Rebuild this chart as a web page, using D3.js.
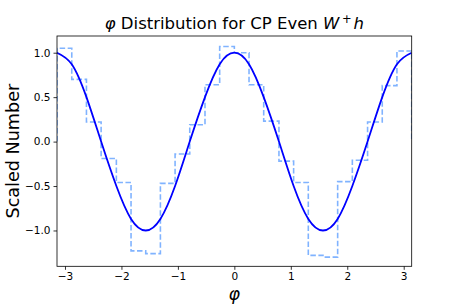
<!DOCTYPE html>
<html>
<head>
<meta charset="utf-8">
<script src="https://cdn.jsdelivr.net/npm/d3@7"></script>
<style>
  body { margin: 0; background: #fff; }
  svg { font-family: "DejaVu Sans", sans-serif; }
</style>
</head>
<body>
<div id="chart"></div>
<script>
// histogram bin edges (phi) and the scaled count in each bin
var binEdges = [-3.1416, -2.88, -2.62, -2.36, -2.09, -1.83, -1.57, -1.31, -1.05, -0.79, -0.52, -0.26,
  0, 0.26, 0.52, 0.79, 1.05, 1.31, 1.57, 1.83, 2.09, 2.36, 2.62, 2.88, 3.1416];
var binValues = [1.05, 0.70, 0.22, -0.19, -0.46, -1.23, -1.26, -0.47, -0.14, 0.19, 0.64, 1.07,
  1.00, 0.64, 0.23, -0.22, -0.46, -1.28, -1.30, -0.45, -0.21, 0.22, 0.63, 1.02];

// theory curve
var curvePhi = [-3.1416, -2.88, -2.62, -2.36, -2.09, -1.83, -1.57, -1.31, -1.05, -0.79, -0.52, -0.26,
  0, 0.26, 0.52, 0.79, 1.05, 1.31, 1.57, 1.83, 2.09, 2.36, 2.62, 2.88, 3.1416];
var curveValues = [1.0, 0.87, 0.5, 0.0, -0.5, -0.87, -1.0, -0.87, -0.5, 0.0, 0.5, 0.87,
  1.0, 0.87, 0.5, 0.0, -0.5, -0.87, -1.0, -0.87, -0.5, 0.0, 0.5, 0.87, 1.0];

var xTicks = [-3, -2, -1, 0, 1, 2, 3];
var yTicks = [-1.0, -0.5, 0.0, 0.5, 1.0];

var width = 457, height = 305;
var margin = {top: 36, right: 45.3, bottom: 38.7, left: 57};
var plotW = width - margin.left - margin.right,
    plotH = height - margin.top - margin.bottom;

var svg = d3.select('#chart').append('svg')
  .attr('width', width)
  .attr('height', height);

var x = d3.scaleLinear().domain([-Math.PI, Math.PI]).range([0, plotW]);
var y = d3.scaleLinear().domain([-1.403, 1.188]).range([plotH, 0]);

var g = svg.append('g').attr('transform', 'translate(' + margin.left + ',' + margin.top + ')');

g.append('clipPath').attr('id', 'clip')
  .append('rect').attr('width', plotW).attr('height', plotH);

var fmtMinus = function(s) { return s.replace('-', '\u2212'); };

// axes
var xAxis = d3.axisBottom(x).tickValues(xTicks).tickSize(3.5).tickPadding(3)
  .tickFormat(function(d) { return fmtMinus(d3.format('d')(d)); });
var yAxis = d3.axisLeft(y).tickValues(yTicks).tickSize(3.5).tickPadding(3)
  .tickFormat(function(d) { return fmtMinus(d3.format('.1f')(d)); });

var gx = g.append('g').attr('transform', 'translate(0,' + plotH + ')').call(xAxis);
var gy = g.append('g').call(yAxis);
[gx, gy].forEach(function(a) {
  a.select('.domain').remove();
  a.selectAll('.tick line').attr('stroke', '#000').attr('stroke-width', 0.8);
  a.selectAll('.tick text').attr('fill', '#000').style('font-size', '10.5px')
    .style('font-family', '"DejaVu Sans", sans-serif');
});

// step histogram (dashed)
var stepPts = [[binEdges[0], 0]];
binValues.forEach(function(v, i) {
  stepPts.push([binEdges[i], v]);
  stepPts.push([binEdges[i + 1], v]);
});
stepPts.push([binEdges[binEdges.length - 1], 0]);

var line = d3.line().x(function(d) { return x(d[0]); }).y(function(d) { return y(d[1]); });

g.append('path')
  .attr('clip-path', 'url(#clip)')
  .attr('d', line(stepPts))
  .attr('fill', 'none')
  .attr('stroke', '#80b3ff')
  .attr('stroke-width', 1.6)
  .attr('stroke-dasharray', '5.5,2.5');

// smooth curve
var curveLine = d3.line()
  .x(function(d) { return x(d[0]); })
  .y(function(d) { return y(d[1]); })
  .curve(d3.curveNatural);
g.append('path')
  .attr('clip-path', 'url(#clip)')
  .attr('d', curveLine(curvePhi.map(function(p, i) { return [p, curveValues[i]]; })))
  .attr('fill', 'none')
  .attr('stroke', '#0000ff')
  .attr('stroke-width', 1.8);

// frame
g.append('rect')
  .attr('width', plotW).attr('height', plotH)
  .attr('fill', 'none').attr('stroke', '#000').attr('stroke-width', 0.8);

// title
var title = svg.append('text')
  .attr('x', margin.left + plotW / 2)
  .attr('y', 29)
  .attr('text-anchor', 'middle')
  .style('font-size', '16.5px');
title.append('tspan').style('font-style', 'italic').text('\u03c6');
title.append('tspan').text(' Distribution for CP Even ');
title.append('tspan').style('font-style', 'italic').text('W');
title.append('tspan').attr('dy', -6).attr('dx', 2.5).style('font-size', '11.5px').text('+');
title.append('tspan').attr('dy', 6).attr('dx', 2).style('font-style', 'italic').text('h');

// axis labels
svg.append('text')
  .attr('x', margin.left + plotW / 2)
  .attr('y', 300)
  .attr('text-anchor', 'middle')
  .style('font-size', '17.5px')
  .style('font-style', 'italic')
  .text('\u03c6');

svg.append('text')
  .attr('transform', 'translate(19,' + (margin.top + plotH / 2) + ') rotate(-90)')
  .attr('text-anchor', 'middle')
  .style('font-size', '17.6px')
  .text('Scaled Number');
</script>
</body>
</html>
